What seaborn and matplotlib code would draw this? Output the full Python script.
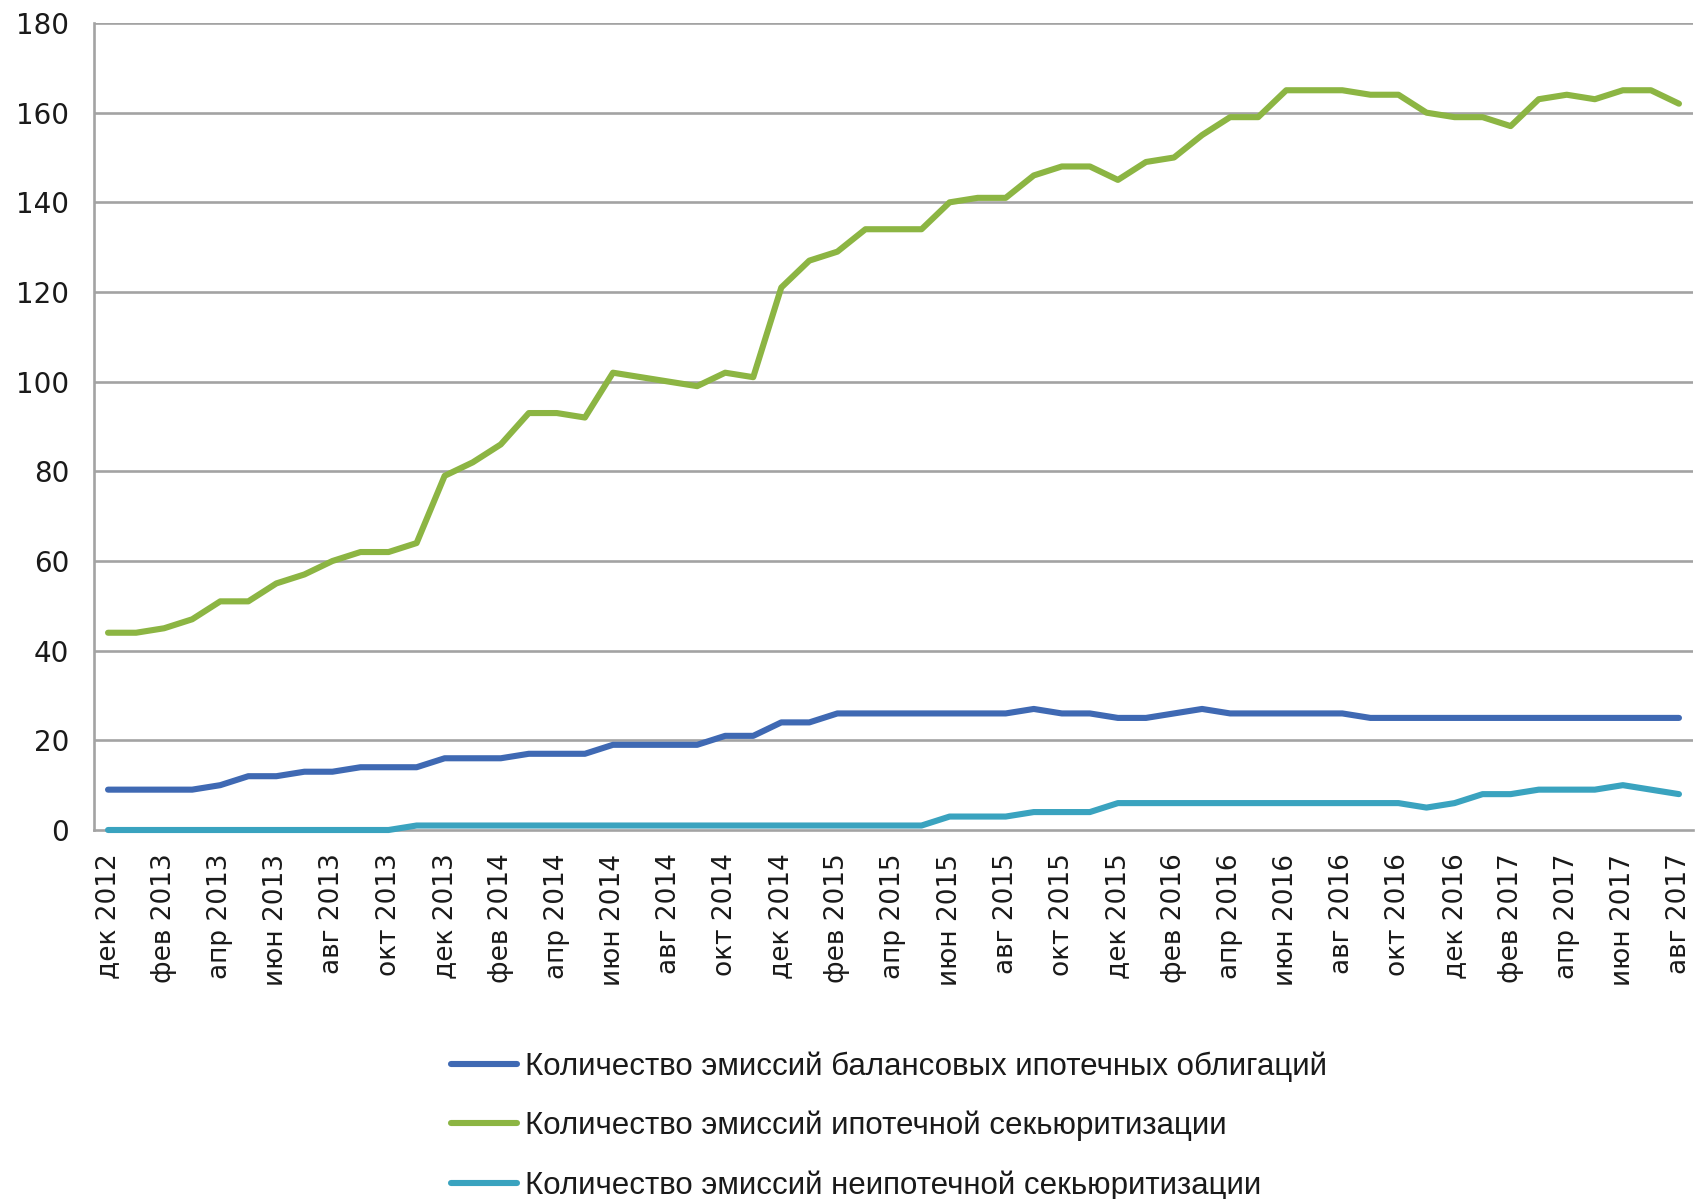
import numpy as np
import pandas as pd
import matplotlib
matplotlib.use("Agg")
import matplotlib.pyplot as plt
import seaborn as sns

# Monthly periods, Dec 2012 .. Aug 2017
months_ru = ["янв", "фев", "мар", "апр", "май", "июн",
             "июл", "авг", "сен", "окт", "ноя", "дек"]
periods = ["дек 2012"] + [f"{m} {y}" for y in range(2013, 2018) for m in months_ru]
periods = periods[:57]

balance_bonds = [9, 9, 9, 9, 10, 12, 12, 13, 13, 14, 14, 14, 16, 16, 16, 17, 17, 17,
                 19, 19, 19, 19, 21, 21, 24, 24, 26, 26, 26, 26, 26, 26, 26, 27, 26, 26,
                 25, 25, 26, 27, 26, 26, 26, 26, 26, 25, 25, 25, 25, 25, 25, 25, 25, 25,
                 25, 25, 25]
mortgage_sec = [44, 44, 45, 47, 51, 51, 55, 57, 60, 62, 62, 64, 79, 82, 86, 93, 93, 92,
                102, 101, 100, 99, 102, 101, 121, 127, 129, 134, 134, 134, 140, 141, 141,
                146, 148, 148, 145, 149, 150, 155, 159, 159, 165, 165, 165, 164, 164, 160,
                159, 159, 157, 163, 164, 163, 165, 165, 162]
non_mortgage_sec = [0, 0, 0, 0, 0, 0, 0, 0, 0, 0, 0, 1, 1, 1, 1, 1, 1, 1, 1, 1, 1, 1,
                    1, 1, 1, 1, 1, 1, 1, 1, 3, 3, 3, 4, 4, 4, 6, 6, 6, 6, 6, 6, 6, 6,
                    6, 6, 6, 5, 6, 8, 8, 9, 9, 9, 10, 9, 8]

series_names = ["Количество эмиссий балансовых ипотечных облигаций",
                "Количество эмиссий ипотечной секьюритизации",
                "Количество эмиссий неипотечной секьюритизации"]
series_colors = ["#3f69b3", "#8cb543", "#3aa3bf"]

frames = []
for name, vals in zip(series_names, [balance_bonds, mortgage_sec, non_mortgage_sec]):
    frames.append(pd.DataFrame({"idx": np.arange(len(periods)), "period": periods,
                                "value": vals, "series": name}))
df = pd.concat(frames, ignore_index=True)

sns.set_style("white")
plt.rcParams["font.family"] = ["DejaVu Sans"]

fig = plt.figure(figsize=(16.96, 11.99), dpi=100)
ax = fig.add_axes([94 / 1696, 1 - 830 / 1199, (1693 - 94) / 1696, (830 - 23) / 1199])

grid_c = "#a3a3a3"
for yv in range(20, 181, 20):
    ax.axhline(yv, color=grid_c, lw=1.9, zorder=0)

sns.lineplot(data=df, x="idx", y="value", hue="series", hue_order=series_names,
             palette=dict(zip(series_names, series_colors)), linewidth=4.4,
             legend=False, ax=ax, clip_on=False, zorder=3)

ax.set_xlim(-0.5, len(periods) - 0.5)
ax.set_ylim(0, 180)
ax.set_xlabel("")
ax.set_ylabel("")

# y axis
ax.set_yticks(range(0, 181, 20))
ax.tick_params(axis="y", which="major", direction="out", length=7, width=1.5,
               color=grid_c, pad=11, labelsize=20, labelcolor="#1a1a1a")

# x axis: boundary ticks every two months, labels centred on the months
ax.set_xticks(np.arange(-0.5, len(periods), 2))
ax.set_xticklabels([])
ax.set_xticks(np.arange(0, len(periods), 2), minor=True)
ax.set_xticklabels(periods[::2], minor=True, rotation=90)
ax.tick_params(axis="x", which="major", direction="out", length=7, width=1.5, color=grid_c)
ax.tick_params(axis="x", which="minor", length=0, pad=17, labelsize=19, labelcolor="#1a1a1a")

for side in ["top", "right"]:
    ax.spines[side].set_visible(False)
ax.spines["left"].set_color(grid_c)
ax.spines["left"].set_linewidth(1.9)
ax.spines["bottom"].set_color(grid_c)
ax.spines["bottom"].set_linewidth(1.9)

handles = [h for h in ax.get_lines() if h.get_color() in series_colors][:3]
leg = fig.legend(handles, series_names, loc="upper left",
                 bbox_to_anchor=(451 / 1696, 1 - 1051 / 1199),
                 frameon=False, borderpad=0, borderaxespad=0,
                 handlelength=2.1, handletextpad=0.27, labelspacing=0.94,
                 prop={"family": ["Liberation Sans", "DejaVu Sans"], "size": 22.5})
for t in leg.get_texts():
    t.set_color("#1a1a1a")

fig.savefig("out.png", dpi=100, facecolor="white")
